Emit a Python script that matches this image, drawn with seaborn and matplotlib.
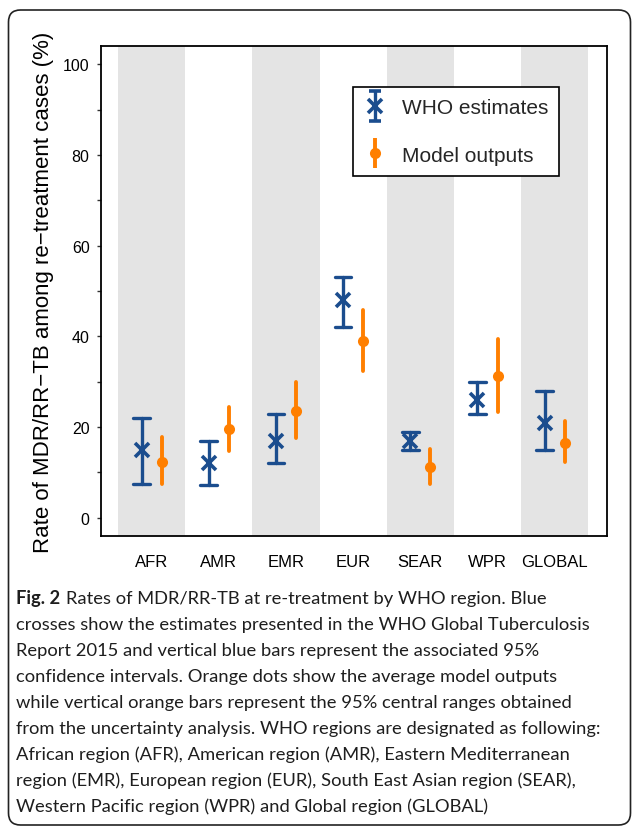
import numpy as np
import pandas as pd
import matplotlib
matplotlib.use('Agg')
import matplotlib.pyplot as plt
import seaborn as sns
from matplotlib.container import ErrorbarContainer
from matplotlib.legend_handler import HandlerErrorbar
from matplotlib.patches import FancyBboxPatch
from matplotlib.transforms import IdentityTransform

# WHO regions and the two sources of estimates
regions = ['AFR', 'AMR', 'EMR', 'EUR', 'SEAR', 'WPR', 'GLOBAL']
series = ['WHO estimates', 'Model outputs']

# WHO estimates with 95% CI (%)
who_est = [15, 12, 17, 48, 17, 26, 21]
who_lo = [7.5, 7.3, 12, 42, 15, 23, 15]
who_hi = [22, 17, 23, 53, 19, 30, 28]

# model outputs with 95% central range (%)
model_est = [12.3, 19.6, 23.6, 39.0, 11.2, 31.2, 16.6]
model_lo = [7.5, 14.8, 17.6, 32.3, 7.5, 23.4, 12.3]
model_hi = [17.8, 24.5, 30.0, 45.9, 15.2, 39.4, 21.4]

yticks = list(range(0, 101, 10))
ytick_labels = [str(v) if v % 20 == 0 else '' for v in yticks]

colors = {'WHO estimates': '#1B4D8E', 'Model outputs': '#FF7F00'}

caption_bold = 'Fig. 2'
caption_lines = [
    'Rates of MDR/RR-TB at re-treatment by WHO region. Blue',
    'crosses show the estimates presented in the WHO Global Tuberculosis',
    'Report 2015 and vertical blue bars represent the associated 95%',
    'confidence intervals. Orange dots show the average model outputs',
    'while vertical orange bars represent the 95% central ranges obtained',
    'from the uncertainty analysis. WHO regions are designated as following:',
    'African region (AFR), American region (AMR), Eastern Mediterranean',
    'region (EMR), European region (EUR), South East Asian region (SEAR),',
    'Western Pacific region (WPR) and Global region (GLOBAL)',
]


def long_table(name, lo, est, hi):
    # three rows per region: lower bound, estimate, upper bound
    rows = []
    for r, a, b, c in zip(regions, lo, est, hi):
        for v in (a, b, c):
            rows.append({'region': r, 'source': name, 'rate': v})
    return pd.DataFrame(rows)


who_df = long_table(series[0], who_lo, who_est, who_hi)
model_df = long_table(series[1], model_lo, model_est, model_hi)

sns.set_theme(style='white')
plt.rcParams['font.family'] = ['Liberation Sans', 'DejaVu Sans']

W, H = 634, 828
fig = plt.figure(figsize=(W / 100, H / 100), dpi=100)
ax = fig.add_axes([100.7 / W, 1 - 537 / H, 506.3 / W, 490 / H])

# grey bands behind every other region
for i in range(0, len(regions), 2):
    ax.axvspan(i - 0.5, i + 0.5, color='#E4E4E4', lw=0, zorder=0)


def span(v):
    return (v.min(), v.max())


common = dict(x='region', y='rate', hue='source', order=regions, hue_order=series,
              palette=colors, estimator='median', errorbar=span, dodge=0.3,
              linestyle='none', legend=False, ax=ax)
sns.pointplot(data=who_df, markers='x', capsize=0.25, markersize=10,
              markeredgewidth=2.6, err_kws={'linewidth': 2.4}, **common)
sns.pointplot(data=model_df, markers='o', capsize=0, markersize=8,
              markeredgewidth=0, err_kws={'linewidth': 2.8}, **common)

# legend proxies (not drawn inside the limits)
h_who = ax.errorbar([np.nan], [np.nan], yerr=[[np.nan], [np.nan]], fmt='x',
                    color=colors[series[0]], ms=10, mew=2.6, elinewidth=2.4,
                    capsize=4.6, capthick=2.4)
h_mod = ax.errorbar([np.nan], [np.nan], yerr=[[np.nan], [np.nan]], fmt='o',
                    color=colors[series[1]], ms=8, mew=0, elinewidth=2.8)
leg = ax.legend(handles=[h_who, h_mod], labels=series, loc='upper left',
                bbox_to_anchor=(0.4976, 0.9163), borderaxespad=0, fontsize=15,
                frameon=True, fancybox=False, edgecolor='black', framealpha=1,
                handlelength=1.0, handletextpad=0.8, borderpad=0.55,
                labelspacing=1.35,
                handler_map={ErrorbarContainer: HandlerErrorbar(yerr_size=0.72, numpoints=1)})
leg.get_frame().set_linewidth(1.2)

ax.set_xlim(-0.76, 6.78)
ax.set_ylim(-4, 104)
ax.set_yticks(yticks)
ax.set_yticklabels(ytick_labels)
ax.tick_params(axis='y', left=True, length=3, width=1, color='#333333', pad=5,
               labelsize=11.5, labelcolor='black')
ax.tick_params(axis='x', bottom=False, length=0, pad=13, labelsize=12,
               labelcolor='black')
ax.set_xlabel('')
ax.set_ylabel('Rate of MDR/RR\u2212TB among re\u2212treatment cases (%)',
              fontsize=16, color='black')
ax.yaxis.label.set_verticalalignment('center')
ax.yaxis.set_label_coords(-0.112, 0.5)
for s in ax.spines.values():
    s.set_visible(True)
    s.set_color('black')
    s.set_linewidth(1.3)

# caption
cap_font = ['Lato', 'DejaVu Sans']
cap_color = '#1E1E1E'
x0 = 16 / W
base0, step = 604, 26
texts = []
t_bold = fig.text(x0, 1 - base0 / H, caption_bold, fontsize=14, fontweight='bold',
                  family=cap_font, color=cap_color, va='baseline', ha='left')
texts.append(t_bold)
t_first = ax.annotate(caption_lines[0], xy=(1, 1 - base0 / H),
                      xycoords=(t_bold, 'figure fraction'),
                      xytext=(4, 0), textcoords='offset points',
                      fontsize=14, family=cap_font, color=cap_color,
                      va='baseline', ha='left', annotation_clip=False)
texts.append(t_first)
for k, line in enumerate(caption_lines[1:], start=1):
    texts.append(fig.text(x0, 1 - (base0 + k * step) / H, line, fontsize=14,
                          family=cap_font, color=cap_color, va='baseline', ha='left'))

# fit the caption width to the reference
fig.canvas.draw()
renderer = fig.canvas.get_renderer()
w = texts[2].get_window_extent(renderer).width
scale = 572 / w
for t in texts:
    t.set_fontsize(t.get_fontsize() * scale)

# rounded outer frame
frame = FancyBboxPatch((8.5, 2), 622, 815, boxstyle='round,pad=0,rounding_size=12',
                       transform=IdentityTransform(), fill=False,
                       edgecolor='#222222', linewidth=1.2)
fig.add_artist(frame)

fig.savefig('out.png', dpi=100)
